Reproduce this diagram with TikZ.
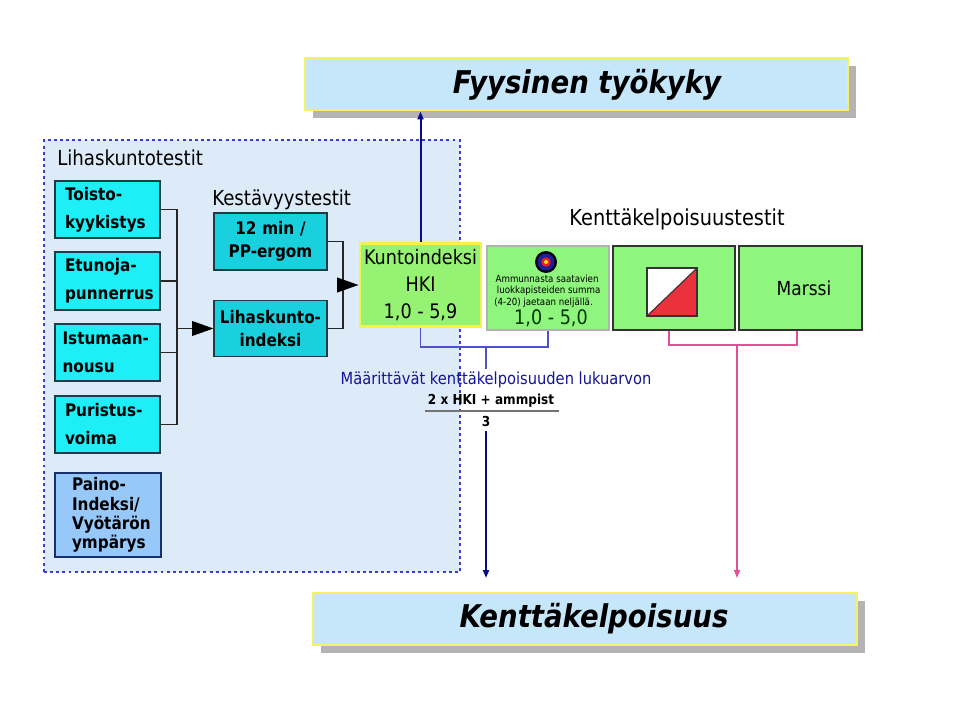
\documentclass[tikz,border=0pt]{standalone}
\usepackage{fontspec}
\setmainfont{DejaVu Sans}[FakeStretch=0.88]
\usetikzlibrary{arrows.meta,shadows}
\definecolor{contB}{RGB}{60,60,210}
\definecolor{contF}{RGB}{221,235,248}
\definecolor{titleB}{RGB}{245,240,100}
\definecolor{titleF}{RGB}{198,230,250}
\definecolor{shadowG}{RGB}{180,180,180}
\definecolor{cyanF}{RGB}{30,238,245}
\definecolor{cyanM}{RGB}{25,208,222}
\definecolor{cyanB}{RGB}{30,60,70}
\definecolor{painoF}{RGB}{150,200,250}
\definecolor{greenF}{RGB}{142,245,125}
\definecolor{hkiF}{RGB}{150,242,115}
\definecolor{yellowB}{RGB}{240,245,70}
\definecolor{blueL}{RGB}{80,80,200}
\definecolor{blueD}{RGB}{10,10,140}
\definecolor{pinkL}{RGB}{225,80,150}
\definecolor{txtBlue}{RGB}{20,20,150}
\definecolor{dkGreen}{RGB}{0,55,0}
\definecolor{flagRed}{RGB}{235,50,60}
\definecolor{tBlue}{RGB}{30,30,150}
\definecolor{tRed}{RGB}{230,30,40}
\newcommand\fsz[2]{\fontsize{#1pt}{#2pt}\selectfont}
\begin{document}
\begin{tikzpicture}[x=0.75pt,y=-0.75pt,
  sz/.style 2 args={minimum width=#1*0.75pt, minimum height=#2*0.75pt},
  container/.style={draw=contB, fill=contF, line width=2.2pt, dash pattern=on 2.2pt off 2.4pt, inner sep=0pt},
  titlebox/.style={draw=titleB, fill=titleF, line width=2.2pt, inner sep=0pt,
    drop shadow={shadow xshift=6pt, shadow yshift=-6pt, fill=shadowG, opacity=1}},
  titletxt/.style={font=\bfseries\itshape\fsz{23.5}{28}, inner sep=0pt},
  cbox/.style={draw=cyanB, fill=cyanF, line width=0.8pt, font=\bfseries\fsz{13}{21},
    align=left, inner xsep=7.5pt, inner ysep=0pt, text width=63.75pt},
  pbox/.style={draw=cyanB!80!blue, fill=painoF, line width=0.8pt, font=\bfseries\fsz{13}{14.5},
    align=left, inner xsep=12.75pt, inner ysep=0pt, text width=54pt},
  mbox/.style={draw=cyanB, fill=cyanM, line width=0.8pt, font=\bfseries\fsz{13}{17.5},
    align=center, inner xsep=3pt, inner ysep=0pt, text width=78.75pt},
  hkibox/.style={draw=yellowB, fill=hkiF, line width=2.2pt, font=\fsz{15}{20},
    align=center, inner sep=0pt},
  gbox/.style={draw=black!80, fill=greenF, line width=0.9pt, inner sep=0pt},
  ampbox/.style={draw=black!30, fill=greenF, line width=1.6pt, inner sep=0pt},
  head/.style={font=\fsz{15.5}{18}, inner sep=0pt},
  blk/.style={draw=black!85, line width=1.1pt},
  bigarr/.style={blk, -{Triangle[length=16pt,width=11pt,fill=black,color=black]}},
  bluel/.style={draw=blueL, line width=1.1pt},
  pinkl/.style={draw=pinkL, line width=1.1pt},
  darr/.style={draw=blueD, line width=1.5pt, -{Triangle[length=6pt,width=4.5pt]}},
  parr/.style={draw=pinkL, line width=1.1pt, -{Triangle[length=6pt,width=4.5pt]}}
]
\fill[white] (0,0) rectangle (960,720);
\useasboundingbox (0,0) rectangle (960,720);

% container
\node[container, sz={416}{432}] (cont) at (252,356) {};
\node[head, anchor=west] (lihT) at (57,158) {Lihaskuntotestit};

% title boxes
\node[titlebox, sz={543}{52}] (fyys) at (576.5,84) {};
\node[titletxt] (fyysT) at (587,85) {Fyysinen työkyky};
\node[titlebox, sz={544}{52}] (kent) at (585,619) {};
\node[titletxt] (kentT) at (594,619) {Kenttäkelpoisuus};

% left test boxes
\node[cbox, sz={105}{57}] (toisto) at (107.5,209.5) {Toisto-\\kyykistys};
\node[cbox, sz={105}{58}] (etunoja) at (107.5,281) {Etunoja-\\punnerrus};
\node[cbox, sz={105}{57}, inner xsep=5.25pt, text width=67.5pt] (istu) at (107.5,352.5) {Istumaan-\\nousu};
\node[cbox, sz={105}{57}] (puris) at (107.5,424.5) {Puristus-\\voima};
\node[pbox, sz={106}{84}] (paino) at (108,515) {Paino-\\Indeksi/\\Vyötärön\\ympärys};

% middle
\node[head, anchor=west] (kestT) at (212,200) {Kestävyystestit};
\node[mbox, sz={113}{57}] (min12) at (270.5,241.5) {12 min /\\PP-ergom};
\node[mbox, sz={113}{56}] (lidx) at (270.5,328.5) {Lihaskunto-\\indeksi};

% HKI
\node[hkibox, sz={121}{83}] (hki) at (420.5,285) {Kuntoindeksi\\HKI\\1,0 - 5,9};

% field tests
\node[head, font=\fsz{16.5}{18}] (kkT) at (677,219) {Kenttäkelpoisuustestit};
\node[ampbox, sz={122}{84}] (amp) at (548,288) {};
\node[gbox, sz={122}{84}] (orient) at (674,288) {};
\node[gbox, sz={123}{84}] (marssi) at (800.5,288) {};
\node[font=\fsz{14.5}{16}, inner sep=0pt] (marssiT) at (804,288) {Marssi};

% target icon
\fill[black] (546,262) circle (8.25pt);
\fill[tBlue] (546,262) circle (6.4pt);
\fill[tRed] (546,262) circle (3.6pt);
\fill[yellow!90!orange] (546,262) circle (1.5pt);
\node[anchor=west, align=left, font=\fsz{7.4}{8.7}, inner sep=0pt] (ampT) at (494,291)
  {\hspace*{1pt}Ammunnasta saatavien\\\hspace*{2pt}luokkapisteiden summa\\(4-20) jaetaan neljällä.};
\node[font=\fsz{15}{16}, text=dkGreen, inner sep=0pt] (ampV) at (551,318) {1,0 - 5,0};

% orienteering flag
\fill[white] (647,268) rectangle (697,316);
\fill[flagRed] (647,316) -- (697,268) -- (697,316) -- cycle;
\draw[black!80, line width=1.1pt] (647,268) rectangle (697,316);
\draw[black!80, line width=0.8pt] (647,316) -- (697,268);

% left bracket
\coordinate (jL) at (177,325);
\draw[blk] (toisto.east) -- (toisto.east -| jL);
\draw[blk] (etunoja.east) -- (etunoja.east -| jL);
\draw[blk] (istu.east) -- (istu.east -| jL);
\draw[blk] (puris.east) -- (puris.east -| jL);
\draw[blk] (toisto.east -| jL) -- (puris.east -| jL);
\draw[bigarr] (jL |- lidx.west) -- (lidx.west);

% middle bracket
\coordinate (jM) at (343,285);
\draw[blk] (min12.east) -- (min12.east -| jM) -- (lidx.east -| jM) -- (lidx.east);
\draw[bigarr] (jM |- hki.west) -- (hki.west);

% up arrow
\draw[darr] (hki.north) -- (hki.north |- fyys.south);

% blue bracket and formula
\coordinate (jB) at (486,347);
\coordinate (jBend) at (486,369);
\draw[bluel] (hki.south) -- (hki.south |- jB) -- (amp.south |- jB) -- (amp.south);
\draw[bluel] (jB) -- (jBend);
\node[font=\fsz{12.5}{14}, text=txtBlue, inner sep=0pt] (maar) at (496,380) {Määrittävät kenttäkelpoisuuden lukuarvon};
\node[font=\bfseries\fsz{10.3}{12}, inner sep=0pt] (num) at (491,401) {2 x HKI + ammpist};
\draw[black!55, line width=1.4pt] (425,411) -- (559,411);
\node[font=\bfseries\fsz{10.3}{12}, inner sep=0pt] (den) at (486,421) {3};
\coordinate (dEnd) at (486,578);
\draw[darr] (den.south |- 0,431) -- (dEnd);

% pink bracket
\coordinate (pL) at (669,345);
\coordinate (pR) at (797,345);
\coordinate (pM) at (737,345);
\coordinate (pEnd) at (737,578);
\draw[pinkl] (pL |- orient.south) -- (pL) -- (pR) -- (pR |- marssi.south);
\draw[parr] (pM) -- (pEnd);
\end{tikzpicture}
\end{document}
